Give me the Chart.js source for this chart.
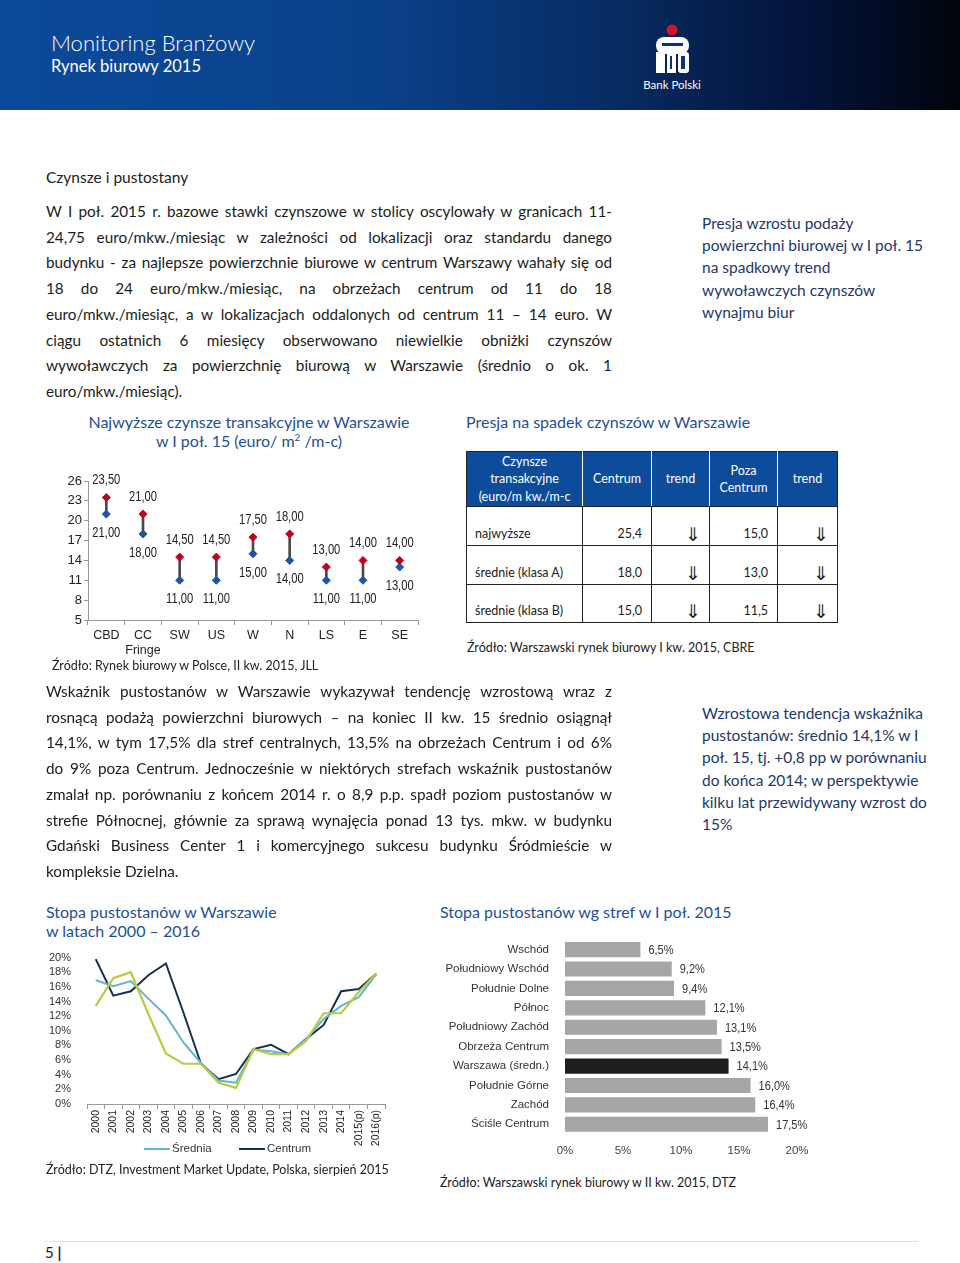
<!DOCTYPE html>
<html lang="pl"><head><meta charset="utf-8">
<script src="https://cdn.jsdelivr.net/npm/chart.js@4.4.1/dist/chart.umd.min.js"></script>
<style>
html,body{margin:0;padding:0}
body{width:960px;height:1263px;position:relative;background:#fff;font-family:Lato,"Open Sans",sans-serif;color:#1c1c1c;overflow:hidden}
.a{position:absolute}
#hdr{left:0;top:0;width:960px;height:110px;background:linear-gradient(90deg,#0b4a9a 0%,#0a4089 40%,#072b60 65%,#03133a 84%,#01040c 100%)}
.t1{left:51px;top:29px;font-size:22px;color:#fff;font-weight:300;line-height:28px}
.t2{left:51px;top:55px;font-size:16.5px;color:#fff;line-height:22px}
.bp{left:630px;top:77px;width:84px;text-align:center;font-size:11.5px;color:#fff;line-height:16px}
.h{left:46px;top:168px;font-size:15.5px;line-height:18px}
.para{left:46px;width:566px;font-size:15.3px;line-height:25.7px}
.para div{text-align:justify;text-align-last:justify}
.para div.last{text-align-last:left}
.note{left:702px;width:250px;font-size:15.5px;line-height:22.2px;color:#1d3769}
.ttl{font-size:16px;line-height:19px;color:#1f4f95}
.src{font-size:12.5px;line-height:16px;color:#222}
table{border-collapse:collapse;font-size:12.5px;table-layout:fixed}
td{border:1px solid #222;padding:0}
thead td{background:#0d4b9b;color:#fff;text-align:center;vertical-align:middle;line-height:17.5px;border-color:#222;border-left-color:#fff;border-right-color:#fff}
thead td:first-child{border-left-color:#222}
thead td:last-child{border-right-color:#222}
tbody td{vertical-align:bottom;padding-bottom:3px;line-height:16px}
tbody td.l{padding-left:8px}
tbody td.n{text-align:right;padding-right:9px}
tbody td.r{text-align:right;padding-right:8px;font-size:19px;line-height:18px;padding-bottom:2px}
.leg{font-family:"Liberation Sans",Arial,sans-serif;font-size:11.5px;color:#333;line-height:14px}
.sw{display:inline-block;width:26px;height:2px;vertical-align:middle;margin-right:2px}
</style></head>
<body>
<div id="hdr" class="a"></div>
<div class="a t1">Monitoring Branżowy</div>
<div class="a t2">Rynek biurowy 2015</div>
<svg class="a" style="left:640px;top:15px" width="70" height="62" viewBox="0 0 70 62">
  <circle cx="32" cy="15" r="5.5" fill="#d0142c"/>
  <rect x="16" y="22" width="33" height="17" rx="8" fill="#fff"/>
  <rect x="22" y="28" width="21" height="3" fill="#0a3478"/>
  <rect x="16" y="37" width="9" height="21" fill="#fff"/>
  <rect x="27" y="37" width="9" height="21" fill="#fff"/>
  <rect x="38" y="37" width="11" height="21" rx="3" fill="#fff"/>
  <rect x="41" y="41" width="4" height="13" fill="#0a3478"/>
  <rect x="30" y="41" width="2" height="13" fill="#0a3478"/>
</svg>
<div class="a bp">Bank Polski</div>

<div class="a h">Czynsze i pustostany</div>
<div class="a para" style="top:199px">
<div>W I poł. 2015 r. bazowe stawki czynszowe w stolicy oscylowały w granicach 11-</div>
<div>24,75 euro/mkw./miesiąc w zależności od lokalizacji oraz standardu danego</div>
<div>budynku - za najlepsze powierzchnie biurowe w centrum Warszawy wahały się od</div>
<div>18 do 24 euro/mkw./miesiąc, na obrzeżach centrum od 11 do 18</div>
<div>euro/mkw./miesiąc, a w lokalizacjach oddalonych od centrum 11 – 14 euro. W</div>
<div>ciągu ostatnich 6 miesięcy obserwowano niewielkie obniżki czynszów</div>
<div>wywoławczych za powierzchnię biurową w Warszawie (średnio o ok. 1</div>
<div class="last">euro/mkw./miesiąc).</div>
</div>
<div class="a note" style="top:212px">Presja wzrostu podaży<br>powierzchni biurowej w I poł. 15<br>na spadkowy trend<br>wywoławczych czynszów<br>wynajmu biur</div>

<div class="a ttl" style="left:85px;top:412px;width:328px;text-align:center">Najwyższe czynsze transakcyjne w Warszawie<br>w I poł. 15 (euro/ m<sup style="font-size:10px;line-height:0">2</sup> /m-c)</div>
<div class="a ttl" style="left:466px;top:412px">Presja na spadek czynszów w Warszawie</div>

<div class="a" style="left:50px;top:462px;width:375px;height:200px"><canvas id="rentChart" width="375" height="200"></canvas></div>
<div class="a src" style="left:52px;top:658px">Źródło: Rynek biurowy w Polsce, II kw. 2015, JLL</div>

<table class="a" style="left:466px;top:451px;width:371px">
<colgroup><col style="width:116px"><col style="width:69px"><col style="width:58px"><col style="width:68px"><col style="width:60px"></colgroup>
<thead><tr style="height:55px"><td>Czynsze<br>transakcyjne<br>(euro/m kw./m-c</td><td>Centrum</td><td>trend</td><td>Poza<br>Centrum</td><td>trend</td></tr></thead>
<tbody>
<tr style="height:39px"><td class="l">najwyższe</td><td class="n">25,4</td><td class="r">⇓</td><td class="n">15,0</td><td class="r">⇓</td></tr>
<tr style="height:39px"><td class="l">średnie (klasa A)</td><td class="n">18,0</td><td class="r">⇓</td><td class="n">13,0</td><td class="r">⇓</td></tr>
<tr style="height:38px"><td class="l">średnie (klasa B)</td><td class="n">15,0</td><td class="r">⇓</td><td class="n">11,5</td><td class="r">⇓</td></tr>
</tbody></table>
<div class="a src" style="left:467px;top:640px">Źródło: Warszawski rynek biurowy I kw. 2015, CBRE</div>

<div class="a para" style="top:679px">
<div>Wskaźnik pustostanów w Warszawie wykazywał tendencję wzrostową wraz z</div>
<div>rosnącą podażą powierzchni biurowych – na koniec II kw. 15 średnio osiągnął</div>
<div>14,1%, w tym 17,5% dla stref centralnych, 13,5% na obrzeżach Centrum i od 6%</div>
<div>do 9% poza Centrum. Jednocześnie w niektórych strefach wskaźnik pustostanów</div>
<div>zmalał np. porównaniu z końcem 2014 r. o 8,9 p.p. spadł poziom pustostanów w</div>
<div>strefie Północnej, głównie za sprawą wynajęcia ponad 13 tys. mkw. w budynku</div>
<div>Gdański Business Center 1 i komercyjnego sukcesu budynku Śródmieście w</div>
<div class="last">kompleksie Dzielna.</div>
</div>
<div class="a note" style="top:702px">Wzrostowa tendencja wskaźnika<br>pustostanów: średnio 14,1% w I<br>poł. 15, tj. +0,8 pp w porównaniu<br>do końca 2014; w perspektywie<br>kilku lat przewidywany wzrost do<br>15%</div>

<div class="a ttl" style="left:46px;top:902px">Stopa pustostanów w Warszawie<br>w latach 2000 – 2016</div>
<div class="a ttl" style="left:440px;top:902px">Stopa pustostanów wg stref w I poł. 2015</div>

<div class="a" style="left:45px;top:943px;width:350px;height:214px"><canvas id="vacLine" width="350" height="214"></canvas></div>
<div class="a leg" style="left:144px;top:1141px"><span class="sw" style="background:#62b4cf"></span>Średnia</div>
<div class="a leg" style="left:239px;top:1141px"><span class="sw" style="background:#142f4f"></span>Centrum</div>
<div class="a src" style="left:46px;top:1162px">Źródło: DTZ, Investment Market Update, Polska, sierpień 2015</div>

<div class="a" style="left:440px;top:925px;width:400px;height:236px"><canvas id="vacBar" width="400" height="236"></canvas></div>
<div class="a src" style="left:440px;top:1175px">Źródło: Warszawski rynek biurowy w II kw. 2015, DTZ</div>

<div class="a" style="left:45px;top:1241px;width:873px;height:1px;background:#e2e2e2"></div>
<div class="a" style="left:45px;top:1243px;font-size:15px;line-height:18px">5 <b>|</b></div>

<script>
// ---------- data ----------
const rentCategories = ['CBD', ['CC', 'Fringe'], 'SW', 'US', 'W', 'N', 'LS', 'E', 'SE'];
const rentHigh = [23.5, 21, 14.5, 14.5, 17.5, 18, 13, 14, 14];
const rentLow = [21, 18, 11, 11, 15, 14, 11, 11, 13];
const rentTicks = [5, 8, 11, 14, 17, 20, 23, 26];

const years = ['2000','2001','2002','2003','2004','2005','2006','2007','2008','2009','2010','2011','2012','2013','2014','2015(p)','2016(p)'];
const vacAverage = [16.9, 16.1, 16.8, 14.4, 12.1, 8.4, 5.6, 3.2, 2.9, 7.4, 7.2, 6.8, 8.9, 11.6, 13.4, 14.6, 17.7];
const vacCentre  = [19.8, 14.8, 15.4, 17.6, 19.2, 12.5, 5.5, 3.4, 4.1, 7.5, 8.1, 6.8, 8.9, 10.8, 15.4, 15.7, 17.8];
const vacOutside = [13.4, 17.2, 18.0, 12.3, 6.9, 5.5, 5.5, 2.9, 2.2, 7.5, 6.8, 6.8, 8.6, 12.4, 12.4, 15.3, 17.8];
const vacTicks = [0, 2, 4, 6, 8, 10, 12, 14, 16, 18, 20];

const zones = ['Wschód','Południowy Wschód','Południe Dolne','Północ','Południowy Zachód','Obrzeża Centrum','Warszawa (średn.)','Południe Górne','Zachód','Ściśle Centrum'];
const zoneVacancy = [6.5, 9.2, 9.4, 12.1, 13.1, 13.5, 14.1, 16.0, 16.4, 17.5];
const zoneTicks = [0, 5, 10, 15, 20];

// ---------- helpers ----------
const SANS = '"Liberation Sans",Arial,sans-serif';
const pl = (v, d) => v.toFixed(d).replace('.', ',');
const valueLabels = {
  id: 'valueLabels',
  afterDatasetsDraw(chart) {
    const ctx = chart.ctx;
    chart.data.datasets.forEach((ds, di) => {
      const c = ds.valueLabel; if (!c) return;
      const meta = chart.getDatasetMeta(di);
      meta.data.forEach((el, i) => {
        const sx = c.scaleX || 1;
        ctx.save();
        ctx.font = c.font; ctx.fillStyle = c.color;
        ctx.textAlign = c.align; ctx.textBaseline = 'middle';
        ctx.translate(el.x + c.dx, el.y + c.dy);
        ctx.scale(sx, 1);
        ctx.fillText(c.format(ds.data[i]), 0, 0);
        ctx.restore();
      });
    });
  }
};
Chart.defaults.font.family = SANS;
Chart.defaults.color = '#222';
Chart.defaults.animation = false;

// ---------- range chart ----------
new Chart(document.getElementById('rentChart'), {
  type: 'bar',
  data: {
    labels: rentCategories,
    datasets: [
      { type: 'bar', data: rentLow.map((l, i) => [l, rentHigh[i]]), backgroundColor: '#4a4a4a', barThickness: 2, order: 3 },
      { type: 'line', data: rentHigh, showLine: false, pointStyle: 'rectRot', pointRadius: 4, pointBackgroundColor: '#c0001a', pointBorderColor: '#c0001a', order: 1,
        valueLabel: { font: '14px ' + SANS, color: '#222', align: 'center', dx: 0, dy: -17, scaleX: 0.8, format: v => pl(v, 2) } },
      { type: 'line', data: rentLow, showLine: false, pointStyle: 'rectRot', pointRadius: 4, pointBackgroundColor: '#1f55a0', pointBorderColor: '#1f55a0', order: 2,
        valueLabel: { font: '14px ' + SANS, color: '#222', align: 'center', dx: 0, dy: 19, scaleX: 0.8, format: v => pl(v, 2) } }
    ]
  },
  options: {
    responsive: false,
    layout: { padding: { top: 19, right: 7, left: 0, bottom: 0 } },
    plugins: { legend: { display: false }, tooltip: { enabled: false } },
    scales: {
      x: { offset: true, grid: { offset: true, drawOnChartArea: false, tickLength: 5, color: '#999' }, border: { color: '#999' },
           ticks: { font: { size: 12.5 }, color: '#222', padding: 3, autoSkip: false, maxRotation: 0, minRotation: 0 },
           afterFit: s => { s.height = 42; } },
      y: { min: 5, max: 26, grid: { drawOnChartArea: false, tickLength: 4, color: '#999' }, border: { color: '#999' },
           afterBuildTicks: s => { s.ticks = rentTicks.map(v => ({ value: v })); },
           ticks: { font: { size: 13 }, color: '#222', padding: 2, autoSkip: false }, afterFit: s => { s.width = 38; } }
    }
  },
  plugins: [valueLabels]
});

// ---------- line chart ----------
new Chart(document.getElementById('vacLine'), {
  type: 'line',
  data: {
    labels: years,
    datasets: [
      { label: 'Poza Centrum', data: vacOutside, borderColor: '#b7cc45', borderWidth: 2.2, pointRadius: 0, tension: 0 },
      { label: 'Średnia', data: vacAverage, borderColor: '#62b4cf', borderWidth: 2, pointRadius: 0, tension: 0 },
      { label: 'Centrum', data: vacCentre, borderColor: '#142f4f', borderWidth: 2, pointRadius: 0, tension: 0 }
    ]
  },
  options: {
    responsive: false,
    layout: { padding: { top: 0, right: 10, left: 0, bottom: 0 } },
    plugins: { legend: { display: false }, tooltip: { enabled: false } },
    scales: {
      x: { offset: true, grid: { offset: true, drawOnChartArea: false, tickLength: 5, color: '#999' }, border: { color: '#999' },
           ticks: { font: { size: 10.5 }, color: '#222', minRotation: 90, maxRotation: 90, padding: 1, autoSkip: false },
           afterFit: s => { s.height = 53; } },
      y: { min: 0, max: 20, grid: { display: false }, border: { display: false },
           afterBuildTicks: s => { s.ticks = vacTicks.map(v => ({ value: v })); },
           ticks: { font: { size: 11 }, color: '#333', padding: 8, autoSkip: false, callback: v => v + '%' },
           afterFit: s => { s.width = 42; } }
    }
  }
});

// ---------- horizontal bar chart ----------
new Chart(document.getElementById('vacBar'), {
  type: 'bar',
  data: {
    labels: zones,
    datasets: [{
      data: zoneVacancy,
      backgroundColor: zones.map(z => z.startsWith('Warszawa') ? '#1e1e1e' : '#a6a6a6'),
      barPercentage: 0.78, categoryPercentage: 1,
      valueLabel: { font: '12px ' + SANS, color: '#333', align: 'left', dx: 8, dy: 1, scaleX: 0.92, format: v => pl(v, 1) + '%' }
    }]
  },
  options: {
    indexAxis: 'y',
    responsive: false,
    layout: { padding: { top: 0, right: 43, left: 0, bottom: 0 } },
    plugins: { legend: { display: false }, tooltip: { enabled: false } },
    scales: {
      x: { min: 0, max: 20, grid: { display: false }, border: { display: false },
           afterBuildTicks: s => { s.ticks = zoneTicks.map(v => ({ value: v })); },
           ticks: { font: { size: 11.5 }, color: '#444', padding: 2, autoSkip: false, callback: v => v + '%' },
           afterFit: s => { s.height = 27; } },
      y: { grid: { display: false }, border: { display: false },
           ticks: { font: { size: 11.5 }, color: '#333', padding: 8, autoSkip: false },
           afterFit: s => { s.width = 125; } }
    }
  },
  plugins: [valueLabels]
});
</script>
</body></html>
